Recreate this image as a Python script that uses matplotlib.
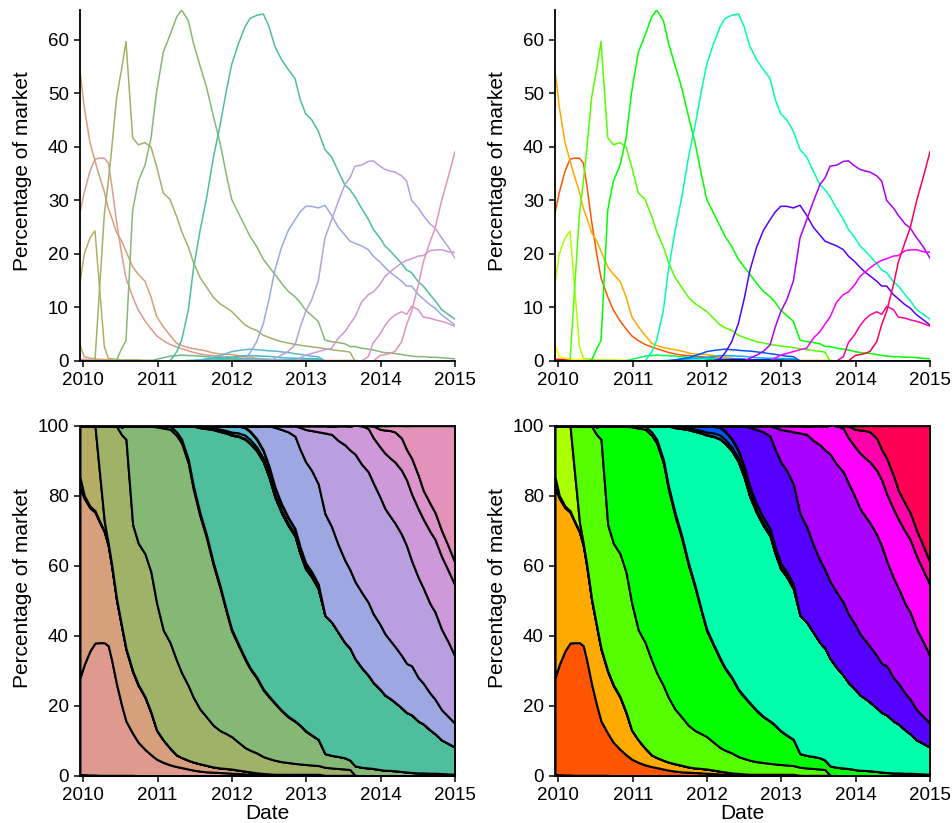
import colorsys
import numpy as np
import matplotlib
matplotlib.use("Agg")
import matplotlib.pyplot as plt

# ===== data: share of Android platform versions (percent) =====
dates = [2009.955, 2010.013, 2010.090, 2010.157, 2010.211, 2010.283, 2010.336, 2010.381,
         2010.448, 2010.516, 2010.574, 2010.664, 2010.740, 2010.830, 2010.910, 2010.987,
         2011.076, 2011.166, 2011.256, 2011.323, 2011.413, 2011.480, 2011.570, 2011.659,
         2011.749, 2011.839, 2011.928, 2011.996, 2012.085, 2012.175, 2012.242, 2012.332,
         2012.422, 2012.498, 2012.578, 2012.668, 2012.758, 2012.848, 2012.915, 2012.991,
         2013.072, 2013.161, 2013.251, 2013.341, 2013.430, 2013.520, 2013.587, 2013.655,
         2013.744, 2013.834, 2013.901, 2013.991, 2014.058, 2014.126, 2014.193, 2014.283,
         2014.350, 2014.417, 2014.507, 2014.574, 2014.664, 2014.731, 2014.821, 2014.910,
         2015.000]

v1_1 = [0.3, 0.3, 0.2, 0.2, 0.1, 0.1, 0.1, 0.1, 0.1, 0.1, 0.1, 0.1] + [0] * 53
v1_5 = [27.7, 31.5, 35.5, 37.7, 37.9, 37.9, 37.0, 33.0, 26.0, 20.0, 15.5, 12.0, 9.5, 7.5,
        6.0, 4.7, 3.8, 3.1, 2.6, 2.3, 1.9, 1.6, 1.3, 1.1, 1.0, 0.9, 0.8, 0.7, 0.6, 0.5,
        0.4, 0.3, 0.3] + [0.2] * 9 + [0] * 23
v1_6 = [54.3, 47.4, 40.8, 37.4, 34.8, 31.6, 28.5, 26.8, 24.0, 22.4, 20.5, 17.6, 16.2, 14.9,
        12.0, 8.3, 6.4, 4.8, 3.3, 2.9, 2.5, 2.3, 2.1, 1.85, 1.5, 1.3, 1.25, 1.2, 1.0, 0.8,
        0.7, 0.5, 0.35, 0.3] + [0.2] * 8 + [0.1] * 6 + [0] * 17
v2_0 = [3.0, 0.8, 0.5, 0.4, 0.3, 0.3, 0.2, 0.2] + [0.1] * 7 + [0] * 50
v2_0_1 = [14.6, 20.0, 23.0, 24.3, 15.0, 2.7, 0.5, 0.4, 0.3, 0.2, 0.2, 0.2, 0.2, 0.1,
          0.1] + [0] * 50
v2_1 = [0, 0, 0, 0, 11.9, 27.4, 33.5, 39.5, 49.3, 54.6, 59.7, 41.75, 40.4, 40.8, 40.0,
        36.3, 31.4, 30.2, 27.0, 24.2, 21.3, 18.5, 15.6, 13.8, 11.9, 10.7, 9.9, 9.25, 8.0,
        6.75, 6.2, 5.7, 4.8, 4.4, 4.0, 3.6, 3.35, 3.1, 2.95, 2.8, 2.65, 2.5, 2.3, 2.1,
        1.95, 1.8, 1.65] + [0] * 18
v2_2 = [0] * 8 + [0.2, 2.3, 3.8, 28.2, 33.6, 36.6, 41.6, 50.4, 57.7, 60.9, 64.3, 65.6,
                  63.6, 59.5, 55.2, 51.1, 45.8, 40.8, 34.6, 30.2, 27.7, 25.2, 23.3, 21.4,
                  19.0, 17.6, 16.2, 14.5, 13.0, 12.0, 11.0, 9.5, 8.5, 7.4, 3.9, 3.6, 3.45,
                  3.2, 2.7, 2.7, 2.4, 2.2, 2.05, 1.75, 1.55, 1.5, 1.4, 1.2, 1.05, 0.9, 0.8,
                  0.8, 0.7, 0.7, 0.6, 0.5, 0.4]
v2_3 = [0] * 15 + [0.3, 0.6, 0.9, 1.0, 1.1, 1.0, 1.0, 0.9, 0.8, 0.7, 0.6, 0.5, 0.5, 0.4,
                   0.4, 0.3, 0.3, 0.3, 0.25, 0.2, 0.2, 0.2, 0.15, 0.15, 0.15, 0.1,
                   0.1] + [0] * 23
v2_3_3 = [0] * 18 + [1.7, 3.9, 9.5, 17.0, 24.3, 30.5, 37.95, 44.0, 50.75, 55.4, 59.2,
                     62.45, 64.0, 64.6, 64.85, 62.5, 58.75, 56.3, 54.45, 52.8, 49.0, 46.2,
                     45.1, 42.95, 39.5, 38.1, 35.45, 32.9, 32.0, 30.7, 28.5, 26.5, 24.6,
                     23.0, 21.5, 20.6, 19.6, 18.2, 17.0, 16.5, 14.8, 14.0, 12.4, 11.3, 9.6,
                     8.7, 7.8]
v3_0 = [0] * 20 + [0.1, 0.1, 0.1, 0.1, 0.15, 0.2, 0.2, 0.2, 0.2, 0.2, 0.2, 0.2, 0.2, 0.2,
                   0.15, 0.1, 0.1, 0.1, 0.1, 0.1, 0.1, 0.1] + [0] * 23
v3_1 = [0] * 21 + [0.1, 0.2, 0.3, 0.4, 0.5, 0.6, 0.7, 0.85, 1.0, 1.0, 0.95, 0.9, 0.85,
                   0.75, 0.6, 0.55, 0.5, 0.5, 0.45, 0.45, 0.4] + [0] * 23
v3_2 = [0] * 22 + [0.2, 0.4, 0.6, 1.0, 1.4, 1.75, 1.95, 2.1, 2.2, 2.1, 2.0, 1.9, 1.85,
                   1.7, 1.55, 1.35, 1.25, 1.05, 0.9, 0.8] + [0] * 23
v4_0 = [0] * 27 + [0.1, 0.1, 0.2, 0.2, 0.3, 0.3, 0.3, 0.2, 0.2, 0.2, 0.2, 0.15, 0.15,
                   0.1, 0.1] + [0] * 23
v4_0_3 = [0] * 29 + [0.4, 1.5, 3.6, 7.0, 11.5, 17.0, 21.3, 24.4, 26.4, 27.8, 28.9, 28.9,
                     28.6, 29.1, 27.2, 25.0, 23.5, 22.4, 22.0, 21.5, 20.8, 19.6, 18.5,
                     17.5, 16.6, 15.9, 14.9, 14.0, 14.0, 12.4, 11.6, 10.5, 9.9, 8.6, 7.7,
                     6.7]
v4_1 = [0] * 34 + [0.5, 1.1, 1.8, 3.0, 6.2, 9.2, 11.4, 14.9, 23.0, 26.4, 29.8, 33.0, 34.2,
                   36.4, 36.6, 37.3, 37.4, 36.4, 35.8, 35.5, 35.3, 34.6, 33.6, 30.0, 28.6,
                   27.2, 25.6, 24.9, 23.0, 21.3, 19.2]
v4_2 = [0] * 38 + [0.5, 1.1, 1.4, 1.75, 2.1, 2.4, 4.25, 5.5, 6.9, 8.2, 11.0, 12.4, 12.9,
                   14.3, 15.8, 16.6, 17.4, 18.3, 18.8, 19.1, 19.6, 19.7, 20.6, 20.75, 20.8,
                   20.4, 20.3]
v4_3 = [0] * 49 + [0.8, 3.4, 5.0, 6.6, 7.8, 8.6, 9.2, 8.7, 10.2, 9.6, 8.2, 8.0, 7.7, 7.4,
                   7.0, 6.5]
v4_4 = [0] * 51 + [1.0, 1.2, 1.4, 1.8, 3.6, 6.8, 9.3, 14.2, 18.5, 22.2, 24.75, 30.0, 34.4,
                   39.1]

shares = [v1_1, v1_5, v1_6, v2_0, v2_0_1, v2_1, v2_2, v2_3, v2_3_3, v3_0, v3_1, v3_2,
          v4_0, v4_0_3, v4_1, v4_2, v4_3, v4_4]


def hcl(h, c, l):
    """polar CIELUV -> sRGB (D65)"""
    un, vn = 0.19784, 0.46834
    u = c * np.cos(np.radians(h))
    v = c * np.sin(np.radians(h))
    y = ((l + 16) / 116) ** 3
    up = u / (13 * l) + un
    vp = v / (13 * l) + vn
    x = y * 9 * up / (4 * vp)
    z = y * (12 - 3 * up - 20 * vp) / (4 * vp)
    m = np.array([[3.2406, -1.5372, -0.4986],
                  [-0.9689, 1.8758, 0.0415],
                  [0.0557, -0.2040, 1.0570]])
    lin = np.clip(m @ np.array([x, y, z]), 0, 1)
    rgb = np.where(lin <= 0.0031308, 12.92 * lin, 1.055 * lin ** (1 / 2.4) - 0.055)
    return tuple(np.clip(rgb, 0, 1))


# ===== style =====
plt.rcParams['font.family'] = ['Liberation Sans', 'DejaVu Sans']
plt.rcParams['font.size'] = 13.5
plt.rcParams['axes.linewidth'] = 1.3
plt.rcParams['xtick.major.size'] = 4.5
plt.rcParams['ytick.major.size'] = 4.5
plt.rcParams['xtick.major.width'] = 1.1
plt.rcParams['ytick.major.width'] = 1.1

n = len(shares)
soft = [hcl(360 * i / n, 50, 70) for i in range(n)]
bright = [colorsys.hsv_to_rgb(i / n, 1.0, 1.0) for i in range(n)]

fig = plt.figure(figsize=(9.53, 8.23), dpi=100)
w, h_top, h_bot = 0.3935, 0.4265, 0.4253
axes = {
    ('line', 0): fig.add_axes([0.0839, 0.5614, w, h_top]),
    ('line', 1): fig.add_axes([0.5824, 0.5614, w, h_top]),
    ('stack', 0): fig.add_axes([0.0839, 0.0575, w, h_bot]),
    ('stack', 1): fig.add_axes([0.5824, 0.0575, w, h_bot]),
}
years = [2010, 2011, 2012, 2013, 2014, 2015]

for col, pal in enumerate([soft, bright]):
    ax = axes[('line', col)]
    for s, c in zip(shares, pal):
        ax.plot(dates, s, color=c, linewidth=1.1)
    ax.set_xlim(dates[0], dates[-1])
    ax.set_ylim(0, max(max(s) for s in shares))
    ax.spines['top'].set_visible(False)
    ax.spines['right'].set_visible(False)
    ax.set_xticks(years)
    ax.set_xticklabels([str(y) for y in years])
    ax.set_yticks(range(0, 61, 10))
    ax.set_ylabel('Percentage of market', fontsize=15)
    ax.yaxis.set_label_coords(-0.128, 0.54)

    ax = axes[('stack', col)]
    ax.stackplot(dates, shares, colors=pal, edgecolor='black', linewidth=1.5)
    ax.set_xlim(dates[0], dates[-1])
    ax.set_ylim(0, 100)
    ax.set_xticks(years)
    ax.set_xticklabels([str(y) for y in years])
    ax.set_yticks(range(0, 101, 20))
    ax.set_ylabel('Percentage of market', fontsize=15)
    ax.yaxis.set_label_coords(-0.128, 0.535)
    ax.set_xlabel('Date', fontsize=15, labelpad=0)

fig.savefig('out.png', dpi=100)
